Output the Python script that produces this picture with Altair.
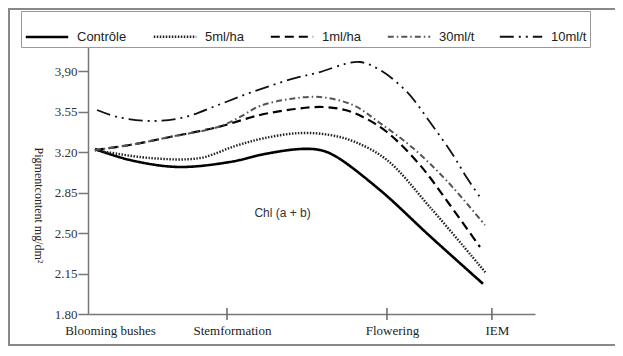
import altair as alt
import pandas as pd

# ---- data ----
stage_names = ["Blooming bushes", "Stemformation", "Flowering", "IEM"]
stage_pos = [0.0, 1.0, 2.151, 2.906]

series_names = ["Contrôle", "5ml/ha", "1ml/ha", "30ml/t", "10ml/t"]

ctrl_x = [0.050, 0.302, 0.647, 1.022, 1.273, 1.525, 1.669, 1.777, 2.101, 2.460, 2.842]
ctrl_y = [3.226, 3.131, 3.071, 3.114, 3.183, 3.226, 3.217, 3.166, 2.871, 2.473, 2.061]

s5_x = [0.050, 0.446, 0.806, 1.058, 1.273, 1.525, 1.741, 1.921, 2.151, 2.460, 2.863]
s5_y = [3.217, 3.148, 3.148, 3.252, 3.321, 3.364, 3.347, 3.287, 3.131, 2.724, 2.154]

s1_x = [0.050, 0.302, 0.590, 0.935, 1.237, 1.489, 1.691, 1.849, 1.978, 2.151, 2.388, 2.604, 2.820]
s1_y = [3.217, 3.261, 3.330, 3.416, 3.520, 3.572, 3.589, 3.563, 3.503, 3.373, 3.088, 2.742, 2.379]

s30_x = [0.050, 0.302, 0.590, 0.935, 1.094, 1.237, 1.453, 1.669, 1.906, 2.101, 2.338, 2.583, 2.856]
s30_y = [3.217, 3.261, 3.330, 3.416, 3.503, 3.598, 3.658, 3.675, 3.606, 3.450, 3.234, 2.949, 2.569]

s10_x = [0.065, 0.216, 0.460, 0.698, 0.935, 1.180, 1.489, 1.669, 1.849, 1.957, 2.101, 2.295, 2.460, 2.626, 2.727, 2.835]
s10_y = [3.563, 3.502, 3.468, 3.502, 3.606, 3.718, 3.839, 3.891, 3.961, 3.978, 3.909, 3.719, 3.459, 3.174, 2.975, 2.785]

y_ticks = [1.80, 2.15, 2.50, 2.85, 3.20, 3.55, 3.90]

annot_text = ["Chl (a + b)"]
annot_x = [1.40]
annot_y = [2.673]

# ---- tables ----
rows = []
for name, xs, ys in zip(series_names,
                        [ctrl_x, s5_x, s1_x, s30_x, s10_x],
                        [ctrl_y, s5_y, s1_y, s30_y, s10_y]):
    for i, (a, b) in enumerate(zip(xs, ys)):
        rows.append({"series": name, "x": a, "y": b, "order": i})
df = pd.DataFrame(rows)

stages_df = pd.DataFrame({"name": stage_names, "pos": stage_pos})
ticks_df = stages_df.iloc[1:]
annot_df = pd.DataFrame({"t": annot_text, "x": annot_x, "y": annot_y})

W, H = 447, 269
XMAX = 3.216
YMIN, YMAX = 1.80, 4.125

label_expr = " : ".join(
    [f"datum.value < {(stage_pos[i] + stage_pos[i + 1]) / 2:.3f} ? '{stage_names[i]}'"
     for i in range(len(stage_names) - 1)] + [f"'{stage_names[-1]}'"]
)

xscale = alt.Scale(domain=[0, XMAX], nice=False, zero=False)
yscale = alt.Scale(domain=[YMIN, YMAX], nice=False, zero=False)

lines = alt.Chart(df).mark_line(interpolate="catmull-rom", strokeCap="butt").encode(
    x=alt.X("x:Q", scale=xscale, axis=alt.Axis(
        values=stage_pos, labelExpr=label_expr, title=None, grid=False,
        tickSize=0, labelPadding=10, labelFont="Liberation Serif", labelFontSize=13,
        labelColor="#222", domainColor="#777", domainWidth=1.5,
        labelOverlap=False, labelBound=False, labelFlush=False,
        labelOffset={"expr": "datum.value < 0.5 ? 22 : 5"},
    )),
    y=alt.Y("y:Q", scale=yscale, axis=alt.Axis(
        values=y_ticks,
        labelExpr="datum.value == 3.9 ? '3,90' : format(datum.value, '.2f')",
        title="Pigmentcontent mg/dm²", titleAngle=90, titleFont="Liberation Serif",
        titleFontSize=12, titleFontWeight="normal", titleColor="#222",
        titleX=-50, titleY=160, titleAlign="center", titleBaseline="middle",
        grid=False, tickSize=10, tickColor="#777", tickWidth=1.5, labelPadding=1,
        labelFont="Liberation Serif", labelFontSize=13, labelColor="#333",
        domainColor="#777", domainWidth=1.5, labelOverlap=False,
    )),
    order="order:Q",
    color=alt.Color("series:N", sort=series_names,
                    scale=alt.Scale(domain=series_names,
                                    range=["#000000", "#222222", "#000000", "#555555", "#111111"]),
                    legend=alt.Legend(title=None, orient="none", direction="horizontal",
                                      columns=5, legendX=-67, legendY=-34,
                                      symbolType="stroke", symbolSize=1800,
                                      labelFont="Liberation Sans", labelFontSize=13,
                                      labelColor="#222", labelOffset=7, columnPadding=21,
                                      padding=3, strokeColor="#999", fillColor="white",
                                      symbolStrokeWidth=2)),
    strokeDash=alt.StrokeDash("series:N", sort=series_names,
                              scale=alt.Scale(domain=series_names,
                                              range=[[1, 0], [1.5, 1.5], [9, 5], [6, 3, 1.5, 3],
                                                     [14, 5, 2, 5, 2, 5]]),
                              legend=alt.Legend(title=None)),
    strokeWidth=alt.StrokeWidth("series:N", sort=series_names,
                                scale=alt.Scale(domain=series_names, range=[2.6, 1.8, 3.0, 1.0, 2.4]),
                                legend=alt.Legend(title=None)),
)

xticks = alt.Chart(ticks_df).mark_rule(color="#666", strokeWidth=1.5).encode(
    x=alt.X("pos:Q", scale=xscale),
    y=alt.value(H - 6),
    y2=alt.value(H + 6),
)

annot = alt.Chart(annot_df).mark_text(font="Liberation Sans", fontSize=12, color="#333").encode(
    x=alt.X("x:Q", scale=xscale),
    y=alt.Y("y:Q", scale=yscale),
    text="t:N",
)

frame = alt.Chart(annot_df).mark_rect(fillOpacity=0, stroke="#888", strokeWidth=2).encode(
    x=alt.value(-79), x2=alt.value(600), y=alt.value(-36), y2=alt.value(300),
)

chart = alt.layer(frame, lines, xticks, annot).properties(
    width=W, height=H,
    autosize=alt.AutoSizeParams(type="none"),
    padding={"left": 80, "top": 37, "right": 80, "bottom": 32},
    background="white",
).configure_view(stroke=None)

chart.save("out.html", embed_options={"renderer": "svg", "actions": False})
